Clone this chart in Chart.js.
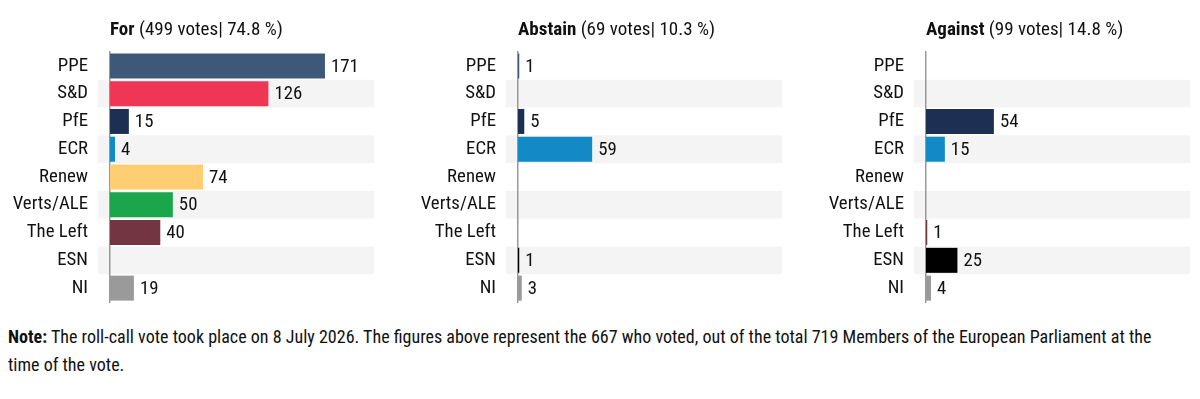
<!DOCTYPE html>
<html>
<head>
<meta charset="utf-8">
<script src="https://cdn.jsdelivr.net/npm/chart.js@4"></script>
<style>
  body { margin: 0; background: #fff; width: 1200px; height: 399px; overflow: hidden;
         font-family: Roboto, sans-serif; font-stretch: condensed; color: #111; }
  .panel { position: absolute; top: 0; width: 372px; height: 314px; }
  #note { position: absolute; left: 8px; top: 323px; width: 1170px; font-size: 18.05px; line-height: 28px; }
</style>
</head>
<body>
<div class="panel" style="left:2px"><canvas id="forChart" width="372" height="314"></canvas></div>
<div class="panel" style="left:410px"><canvas id="abstainChart" width="372" height="314"></canvas></div>
<div class="panel" style="left:818px"><canvas id="againstChart" width="372" height="314"></canvas></div>
<div id="note"><b>Note:</b> The roll-call vote took place on 8 July 2026. The figures above represent the 667 who voted, out of the total 719 Members of the European Parliament at the time of the vote.</div>

<script>
// données
const groups = ['PPE', 'S&D', 'PfE', 'ECR', 'Renew', 'Verts/ALE', 'The Left', 'ESN', 'NI'];
const groupColors = ['#3d5878', '#ef3654', '#1d2f52', '#138ac6', '#ffcd72', '#1ba64b', '#723541', '#000000', '#9a9a9a'];
const forVotes = [171, 126, 15, 4, 74, 50, 40, 0, 19];
const abstainVotes = [1, 0, 5, 59, 0, 0, 0, 1, 3];
const againstVotes = [0, 0, 54, 15, 0, 0, 1, 25, 4];
const forTitle = ['For', '(499 votes| 74.8 %)'];
const abstainTitle = ['Abstain', '(69 votes| 10.3 %)'];
const againstTitle = ['Against', '(99 votes| 14.8 %)'];

const FONT = 'Roboto, sans-serif';

// bandes grises une ligne sur deux
const rowBands = {
    id: 'rowBands',
    beforeDraw(chart) {
        const { ctx, chartArea, scales } = chart;
        const h = scales.y.height / groups.length;
        ctx.save();
        ctx.fillStyle = '#f4f4f4';
        groups.forEach((g, i) => {
            if (i % 2 === 1) {
                const c = scales.y.getPixelForValue(i);
                ctx.fillRect(chartArea.left - 12, c - h / 2, chartArea.right - chartArea.left + 12, h);
            }
        });
        ctx.restore();
    }
};

// étiquettes de valeur au bout des barres
const valueLabels = {
    id: 'valueLabels',
    afterDatasetsDraw(chart) {
        const { ctx } = chart;
        const meta = chart.getDatasetMeta(0);
        const values = chart.data.datasets[0].data;
        ctx.save();
        ctx.font = 'condensed 18.8px ' + FONT;
        ctx.fillStyle = '#111';
        ctx.textBaseline = 'middle';
        meta.data.forEach((bar, i) => {
            if (values[i] > 0) ctx.fillText(values[i], bar.x + 6, bar.y + 1);
        });
        ctx.restore();
    }
};

// titre : partie en gras + partie normale
const panelTitle = {
    id: 'panelTitle',
    afterDraw(chart, args, opts) {
        const { ctx, chartArea } = chart;
        ctx.save();
        ctx.fillStyle = '#111';
        ctx.textBaseline = 'middle';
        ctx.font = 'condensed bold 19px ' + FONT;
        ctx.fillText(opts.text[0], chartArea.left, 30);
        const w = ctx.measureText(opts.text[0]).width;
        ctx.font = 'condensed 19px ' + FONT;
        ctx.fillText(' ' + opts.text[1], chartArea.left + w, 30);
        ctx.restore();
    }
};

function makeChart(id, values, title) {
    const ctx = document.getElementById(id).getContext('2d');
    new Chart(ctx, {
        type: 'bar',
        data: {
            labels: groups,
            datasets: [{
                data: values,
                backgroundColor: groupColors,
                barPercentage: 0.9,
                categoryPercentage: 1
            }]
        },
        options: {
            indexAxis: 'y',
            responsive: false,
            animation: false,
            layout: { padding: { top: 52, bottom: 12, right: 0 } },
            plugins: {
                legend: { display: false },
                tooltip: { enabled: false },
                panelTitle: { text: title }
            },
            scales: {
                x: { display: false, min: 0, max: 210 },
                y: {
                    grid: { display: true, drawOnChartArea: false, drawTicks: true, tickLength: 22, color: 'transparent' },
                    border: { display: true, color: '#9a9a9a', width: 1.5 },
                    // weight porte aussi le "condensed" (le style est validé par Chart.js)
                    ticks: { color: '#111', padding: 0, font: { size: 18.8, family: FONT, weight: 'condensed' } },
                    afterFit(scale) { scale.width = 108; }
                }
            }
        },
        plugins: [rowBands, valueLabels, panelTitle]
    });
}

makeChart('forChart', forVotes, forTitle);
makeChart('abstainChart', abstainVotes, abstainTitle);
makeChart('againstChart', againstVotes, againstTitle);
</script>
</body>
</html>
